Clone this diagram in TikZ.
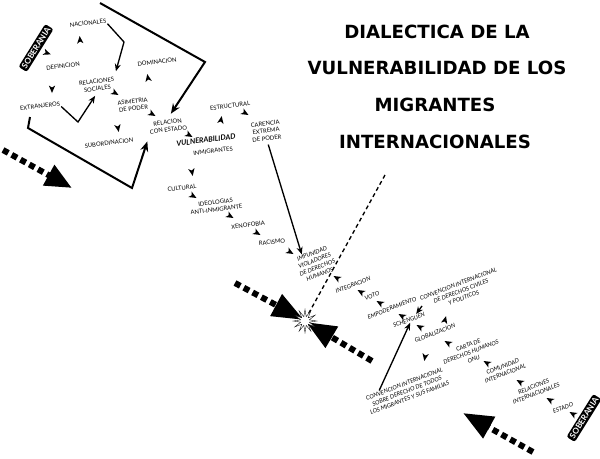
\documentclass[tikz,border=0pt]{standalone}
\usepackage{fontspec}
\setmainfont{Lato}
\newfontfamily\titlefont{DejaVu Sans}
\usetikzlibrary{calc,arrows.meta,shapes.geometric}

\tikzset{
  lbl/.style={font=\fontsize{5}{6.3}\selectfont, align=center, inner sep=0.6pt, rotate=7},
  lblbaja/.style={lbl, font=\fontsize{5}{6.3}\selectfont\itshape, rotate=14},
  titulo/.style={font=\titlefont\fontsize{15.5}{18}\selectfont\bfseries, inner sep=0pt},
  soberania/.style={fill=black, text=white, rounded corners=2pt, font=\fontsize{7}{8}\selectfont\bfseries, inner sep=1.6pt, rotate=58},
  corchete/.style={line width=0.6mm, -{Stealth[length=3mm,width=2.4mm]}},
  flecha/.style={line width=0.4mm, -{Stealth[length=2.2mm,width=1.8mm]}},
  grueso/.style={line width=1.8mm, dash pattern=on 1.8mm off 1.2mm},
  arrowmark/.pic={\fill (4,0) -- (-3.5,-3.2) -- (-1.5,0) -- (-3.5,3.2) -- cycle;}
}

\begin{document}
\begin{tikzpicture}[x=0.3mm,y=-0.3mm]
    \useasboundingbox (0,0) rectangle (600,458);

    % Titulo
    \node[titulo] (t1) at (437,32) {DIALECTICA DE LA};
    \node[titulo] (t2) at (437,68) {VULNERABILIDAD DE LOS};
    \node[titulo] (t3) at (435,105) {MIGRANTES};
    \node[titulo] (t4) at (435,142) {INTERNACIONALES};

    % Soberania
    \node[soberania] (sob1) at (36,48) {SOBERANIA};
    \node[soberania] (sob2) at (584,418) {SOBERANIA};

    % Parte alta
    \node[lbl] (nac) at (88,23) {NACIONALES};
    \node[lbl] (defi) at (63,66) {DEFINICION};
    \node[lbl] (relsoc) at (97,85) {RELACIONES\\SOCIALES};
    \node[lbl] (dom) at (157,62) {DOMINACION};
    \node[lbl] (extr) at (40,106) {EXTRANJEROS};
    \node[lbl] (asim) at (133,105) {ASIMETRIA\\DE PODER};
    \node[lbl] (subord) at (109,143) {SUBORDINACION};
    \node[lbl] (relest) at (168,126) {RELACION\\CON ESTADO};
    \node[lbl] (estr) at (230,106) {ESTRUCTURAL};
    \node[lbl] (caren) at (266,131) {CARENCIA\\EXTREMA\\DE PODER};
    \node[lbl, font=\fontsize{6.3}{7}\selectfont\bfseries\itshape] (vuln) at (206,140) {VULNERABILIDAD};
    \node[lbl] (inmig) at (213,151) {INMIGRANTES};
    \node[lbl] (cult) at (182,188) {CULTURAL};
    \node[lbl] (ideol) at (216,206) {IDEOLOGIAS\\ANTI-INMIGRANTE};
    \node[lbl] (xeno) at (248,225) {XENOFOBIA};
    \node[lbl] (rac) at (272,242) {RACISMO};
    \node[lblbaja] (impun) at (316,264) {IMPUNIDAD\\VIOLADORES\\DE DERECHOS\\HUMANOS};

    % Parte baja
    \node[lblbaja] (integ) at (353,285) {INTEGRACION};
    \node[lblbaja] (voto) at (372,296) {VOTO};
    \node[lblbaja] (empod) at (392,308) {EMPODERAMIENTO};
    \node[lblbaja] (scheng) at (409,320) {SCHENGUEN};
    \node[lblbaja] (convciv) at (461,291) {CONVENCION INTERNACIONAL\\DE DERECHOS CIVILES\\Y POLITICOS};
    \node[lblbaja] (glob) at (435,333) {GLOBALIZACION};
    \node[lblbaja] (carta) at (471,352) {CARTA DE\\DERECHOS HUMANOS\\ONU};
    \node[lblbaja] (convmig) at (407,391) {CONVENCION INTERNACIONAL\\SOBRE DERECHO DE TODOS\\LOS MIGRANTES Y SUS FAMILIAS};
    \node[lblbaja] (comun) at (504,370) {COMUNIDAD\\INTERNACIONAL};
    \node[lblbaja] (relint) at (535,390) {RELACIONES\\INTERNACIONALES};
    \node[lblbaja] (estado) at (563,408) {ESTADO};

    % Corchetes
    \draw[corchete, shorten >=2mm] (100,3) -- (205,62) -- (relest.north);
    \draw[corchete, shorten >=2mm] (30,117) -- (28,128) -- (132,188) -- (relest.south west);
    \draw[flecha, shorten >=1.5mm] (nac.south east) -- (124,42) -- (relsoc.north east);
    \draw[flecha, shorten >=1.5mm] (extr.south east) -- (78,122) -- (relsoc.south);

    % Flechas largas
    \draw[flecha, shorten <=1mm] (caren.south) -- ($(impun.north)!0.5!(impun.north west)$);
    \draw[flecha] (convciv.west) -- ($(scheng.north)!0.5!(scheng.north east)$);
    \draw[flecha] ($(convmig.north)!0.6!(convmig.north west)$) -- (scheng.south);

    % Puntas sueltas
    \foreach \px/\py/\ang in {80/40/95, 47/53/-20, 52/89/-90, 115/93/-30, 148/78/100,
        118/128/-80, 152/114/-30, 189/135/-30, 221/120/80, 245/113/-30, 192/172/-80,
        193/196/-30, 230/216/-30, 257/233/-30, 290/252/-30,
        337/278/150, 361/292/150, 380/303/150, 402/316/150, 420/327/150, 445/320/75,
        448/343/150, 425/357/-100, 487/363/150, 520/382/150, 550/400/150, 573/414/150}
        \pic[rotate=\ang] at (\px,\py) {arrowmark};

    % Choque
    \coordinate (izq) at (3,150);
    \coordinate (izqfin) at (72,188);
    \coordinate (sup) at (235,283);
    \coordinate (inf) at (372,361);
    \coordinate (der) at (533,452);
    \coordinate (derfin) at (463,413);
    \coordinate (linea) at (385,175);
    \draw[line width=0.4mm, dash pattern=on 1.2mm off 0.9mm] (linea) -- (305,320);
    \draw[grueso, -{Triangle[length=8mm,width=6.6mm]}] (izq) -- (izqfin);
    \draw[grueso, -{Triangle[length=9.5mm,width=7mm]}] (sup) -- (304,320);
    \draw[grueso, -{Triangle[length=9mm,width=7mm]}] (inf) -- (306,322);
    \draw[grueso, -{Triangle[length=9mm,width=7mm]}] (der) -- (derfin);
    \node[star, star points=12, star point ratio=2.6, draw, fill=white, line width=0.3pt,
        minimum size=7mm, inner sep=0pt] (choque) at (305,321) {};
\end{tikzpicture}
\end{document}
